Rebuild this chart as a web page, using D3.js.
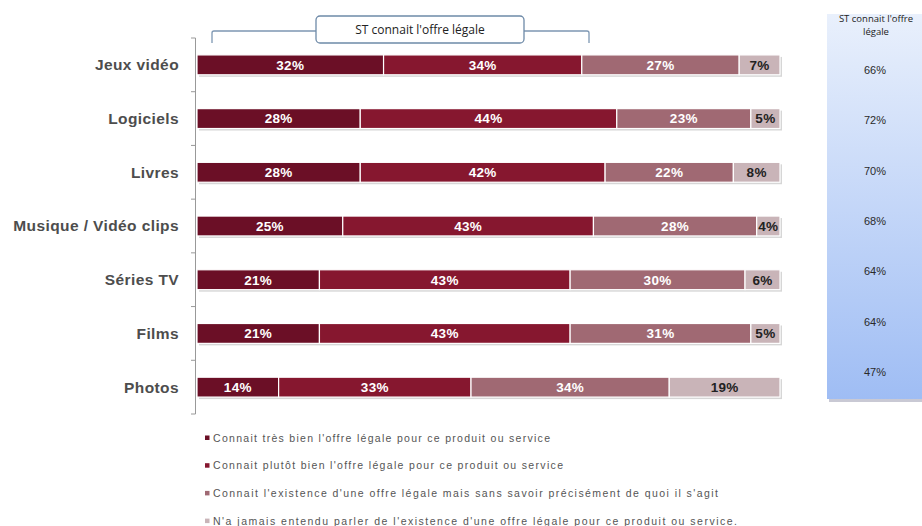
<!DOCTYPE html>
<html>
<head>
<meta charset="utf-8">
<script src="https://cdn.jsdelivr.net/npm/d3@7"></script>
<style>
  body { margin: 0; background: #fff; }
  svg { display: block; }
</style>
</head>
<body>
<div id="chart"></div>
<script>
// categories and series (percentages)
const categories = ["Jeux vidéo", "Logiciels", "Livres", "Musique / Vidéo clips", "Séries TV", "Films", "Photos"];
const tresBien   = [32, 28, 28, 25, 21, 21, 14];
const plutotBien = [34, 44, 42, 43, 43, 43, 33];
const existence  = [27, 23, 22, 28, 30, 31, 34];
const jamais     = [7, 5, 8, 4, 6, 5, 19];
const stConnait  = [66, 72, 70, 68, 64, 64, 47];

const seriesNames = [
  "Connait très bien l'offre légale pour ce produit ou service",
  "Connait plutôt bien l'offre légale pour ce produit ou service",
  "Connait l'existence d'une offre légale mais sans savoir précisément de quoi il s'agit",
  "N'a jamais entendu parler de l'existence d'une offre légale pour ce produit ou service."
];
const colors = ["#6b0f26", "#86172f", "#a06973", "#c9b4b8"];
const labelColors = ["#fff", "#fff", "#fff", "#222"];

const width = 922, height = 526;

const svg = d3.select("#chart").append("svg")
  .attr("width", width)
  .attr("height", height);

const defs = svg.append("defs");
const grad = defs.append("linearGradient")
  .attr("id", "panelGrad")
  .attr("x1", 0).attr("y1", 0).attr("x2", 0).attr("y2", 1);
grad.append("stop").attr("offset", "0%").attr("stop-color", "#e9f0fc");
grad.append("stop").attr("offset", "100%").attr("stop-color", "#9fbdf4");

// Build stacked data
const rows = categories.map((c, i) => ({
  cat: c, s0: tresBien[i], s1: plutotBien[i], s2: existence[i], s3: jamais[i]
}));
const stack = d3.stack().keys(["s0", "s1", "s2", "s3"]);
const stacked = stack(rows);

// Scales
const x = d3.scaleLinear().domain([0, 100]).range([197, 780]);
const y = d3.scaleBand().domain(categories).range([38, 414]).paddingInner(0.63).paddingOuter(0.315);

// Axis line and ticks (on band boundaries)
const axisG = svg.append("g");
axisG.append("line")
  .attr("x1", 195.5).attr("x2", 195.5)
  .attr("y1", 38).attr("y2", 414)
  .attr("stroke", "#999").attr("stroke-width", 1);
const boundaries = d3.range(categories.length + 1).map(i => 38 + i * y.step());
axisG.selectAll("line.tick")
  .data(boundaries)
  .enter().append("line")
  .attr("class", "tick")
  .attr("x1", 191).attr("x2", 195.5)
  .attr("y1", d => d).attr("y2", d => d)
  .attr("stroke", "#999");

// Category labels
svg.append("g").selectAll("text")
  .data(categories)
  .enter().append("text")
  .attr("x", 179)
  .attr("y", d => y(d) + y.bandwidth() / 2)
  .attr("dy", "0.35em")
  .attr("text-anchor", "end")
  .style("font-family", "'Liberation Sans', Arial, sans-serif")
  .style("font-size", "15.5px")
  .style("font-weight", "bold")
  .style("letter-spacing", "0.4px")
  .style("fill", "#4d4d4d")
  .text(d => d);

// Bar shadows
svg.append("g").selectAll("rect")
  .data(categories)
  .enter().append("rect")
  .attr("x", x(0) + 2)
  .attr("y", d => y(d) + 2)
  .attr("width", x(100) - x(0))
  .attr("height", y.bandwidth())
  .attr("fill", "#d6d6d6");

// Bars
const layers = svg.append("g").selectAll("g")
  .data(stacked)
  .enter().append("g")
  .attr("fill", (d, i) => colors[i]);

layers.selectAll("rect")
  .data(d => d)
  .enter().append("rect")
  .attr("x", d => x(d[0]))
  .attr("y", d => y(d.data.cat))
  .attr("width", d => x(d[1]) - x(d[0]))
  .attr("height", y.bandwidth())
  .attr("stroke", "#fff")
  .attr("stroke-width", 1.2);

// Bar labels
stacked.forEach((layer, li) => {
  svg.append("g").selectAll("text")
    .data(layer)
    .enter().append("text")
    .attr("x", d => (x(d[0]) + x(d[1])) / 2)
    .attr("y", d => y(d.data.cat) + y.bandwidth() / 2)
    .attr("dy", "0.36em")
    .attr("text-anchor", "middle")
    .style("font-family", "'Liberation Sans', Arial, sans-serif")
    .style("font-size", "13.5px")
    .style("font-weight", "bold")
    .style("letter-spacing", "0.3px")
    .style("fill", labelColors[li])
    .text(d => (d[1] - d[0]) + "%");
});

// Bracket over first two series
const bracket = svg.append("g");
bracket.append("path")
  .attr("d", `M212,43 V33 Q212,31 214,31 H587 Q589,31 589,33 V43`)
  .attr("fill", "none")
  .attr("stroke", "#7d97b3")
  .attr("stroke-width", 1.3);
bracket.append("rect")
  .attr("x", 316).attr("y", 16)
  .attr("width", 208).attr("height", 27)
  .attr("rx", 4)
  .attr("fill", "#fff")
  .attr("stroke", "#6e8aa8")
  .attr("stroke-width", 1.3);
bracket.append("text")
  .attr("x", 420).attr("y", 30)
  .attr("dy", "0.35em")
  .attr("text-anchor", "middle")
  .style("font-family", "'Open Sans', 'DejaVu Sans', sans-serif")
  .style("font-size", "12px")
  .style("fill", "#222")
  .text("ST connait l'offre légale");

// Right panel
const panel = svg.append("g");
panel.append("rect")
  .attr("x", 829).attr("y", 17)
  .attr("width", 100).attr("height", 385)
  .attr("fill", "#c9c9d4");
panel.append("rect")
  .attr("x", 827).attr("y", 14)
  .attr("width", 100).attr("height", 385)
  .attr("fill", "url(#panelGrad)");
panel.append("text")
  .attr("x", 876).attr("y", 19)
  .attr("text-anchor", "middle")
  .style("font-family", "'Open Sans', 'DejaVu Sans', sans-serif")
  .style("font-size", "9.5px")
  .style("fill", "#222")
  .selectAll("tspan")
  .data(["ST connait l'offre", "légale"])
  .enter().append("tspan")
  .attr("x", 876)
  .attr("dy", (d, i) => i === 0 ? "0.35em" : "1.3em")
  .text(d => d);

const yPanel = d3.scalePoint().domain(categories).range([70, 372]);
panel.append("g").selectAll("text")
  .data(categories)
  .enter().append("text")
  .attr("x", 875)
  .attr("y", d => yPanel(d))
  .attr("dy", "0.35em")
  .attr("text-anchor", "middle")
  .style("font-family", "'Liberation Sans', Arial, sans-serif")
  .style("font-size", "11px")
  .style("fill", "#2a2a2a")
  .text((d, i) => stConnait[i] + "%");

// Legend
const legendWidths = [337, 350, 505, 524];
const legend = svg.append("g").selectAll("g")
  .data(seriesNames)
  .enter().append("g")
  .attr("transform", (d, i) => `translate(205, ${438 + i * 27.7})`);
legend.append("rect")
  .attr("x", 0).attr("y", -2.5)
  .attr("width", 4.5).attr("height", 4.5)
  .attr("fill", (d, i) => colors[i]);
legend.append("text")
  .attr("x", 8)
  .attr("y", 0)
  .attr("dy", "0.35em")
  .attr("textLength", (d, i) => legendWidths[i])
  .attr("lengthAdjust", "spacing")
  .style("font-family", "'Liberation Sans', Arial, sans-serif")
  .style("font-size", "10.5px")
  .style("fill", "#555")
  .text(d => d);
</script>
</body>
</html>
